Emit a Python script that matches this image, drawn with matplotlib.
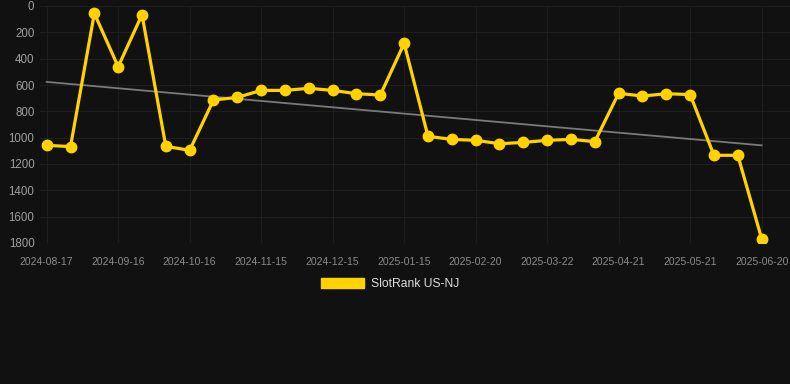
import numpy as np
import matplotlib
matplotlib.use('Agg')
import matplotlib.pyplot as plt
from matplotlib.patches import Patch

plt.rcParams['font.family'] = ['Liberation Sans', 'DejaVu Sans']

# data (rank, lower is better -> inverted axis)
dates = ['2024-08-17', '2024-08-27', '2024-09-06', '2024-09-16', '2024-09-26', '2024-10-06',
         '2024-10-16', '2024-10-26', '2024-11-05', '2024-11-15', '2024-11-25', '2024-12-05',
         '2024-12-15', '2024-12-25', '2025-01-04', '2025-01-15', '2025-01-27', '2025-02-08',
         '2025-02-20', '2025-03-02', '2025-03-12', '2025-03-22', '2025-04-01', '2025-04-11',
         '2025-04-21', '2025-05-01', '2025-05-11', '2025-05-21', '2025-05-31', '2025-06-10',
         '2025-06-20']
rank = [1058, 1068, 56, 461, 66, 1066, 1096, 714, 694, 641, 641, 625, 641, 666, 676, 284,
        990, 1013, 1020, 1046, 1036, 1020, 1013, 1030, 663, 684, 666, 673, 1134, 1134, 1767]
series_name = 'SlotRank US-NJ'
y_ticks = [0, 200, 400, 600, 800, 1000, 1200, 1400, 1600, 1800]

bg = '#111111'
gold = '#FFD200'

W, H = 790, 384
fig = plt.figure(figsize=(W / 100, H / 100), dpi=100, facecolor=bg)
ax = fig.add_axes([40 / W, 1 - 243 / H, (790 - 40) / W, (243 - 6) / H])
ax.set_facecolor(bg)

x = np.arange(len(rank))

# linear trend over the series
k, b = np.polyfit(x, rank, 1)
ax.plot(x, k * x + b, color='#7a7a7a', lw=1.3, zorder=2)

ax.plot(x, rank, color=gold, lw=2.3, marker='o', markersize=7.5, zorder=3)

ax.set_xlim(-0.28, len(rank) - 1 + 1.19)
ax.set_ylim(1800, 0)
ax.set_yticks(y_ticks)
ax.set_yticklabels([str(v) for v in y_ticks], fontsize=8.3, color='#a0a0a0')
xt = x[::3]
ax.set_xticks(xt)
ax.set_xticklabels([dates[i] for i in xt], fontsize=7.5, color='#8c8c8c')
ax.tick_params(axis='both', length=0)
ax.tick_params(axis='x', pad=10)
ax.tick_params(axis='y', pad=4)
ax.grid(True, color='#1e1e1e', lw=0.8, zorder=0)
for s in ax.spines.values():
    s.set_visible(False)

handle = Patch(facecolor=gold, edgecolor=gold)
leg = fig.legend([handle], [series_name], loc='center', bbox_to_anchor=(0.494, 1 - 284 / H),
                 frameon=False, fontsize=8.7, handlelength=3.5, handleheight=0.9,
                 handletextpad=0.6, labelcolor='#dddddd')

fig.savefig('out.png', dpi=100, facecolor=bg)
